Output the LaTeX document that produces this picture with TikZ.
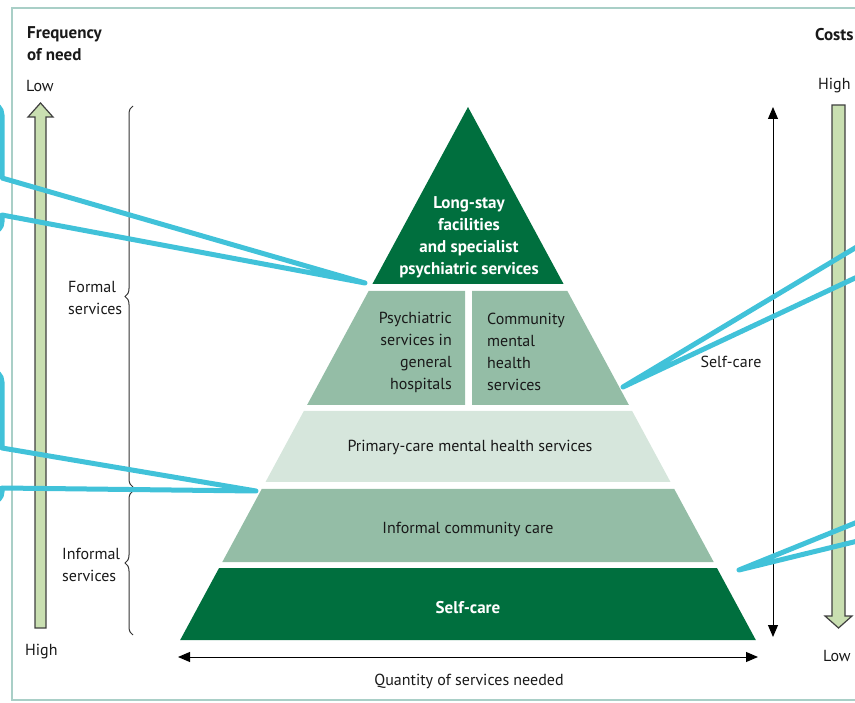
\documentclass[tikz,border=0pt]{standalone}
\usepackage{fontspec}
\setmainfont{PT Sans}
\usetikzlibrary{positioning, arrows.meta, decorations.pathreplacing, calc}
\definecolor{darkgreen}{HTML}{006F3E}
\definecolor{midgreen}{HTML}{94BDA6}
\definecolor{palegreen}{HTML}{D6E6DC}
\definecolor{arrowgreen}{HTML}{C9DFB1}
\definecolor{calloutblue}{HTML}{41C2D9}
\definecolor{framecol}{HTML}{A9CFC7}
\newcommand{\PyrBand}[3]{% style, top y, bottom y
  \fill[#1] ({468-0.54*(#2-107)},#2) -- ({468+0.54*(#2-107)},#2)
    -- ({468+0.54*(#3-107)},#3) -- ({468-0.54*(#3-107)},#3) -- cycle;}
\tikzset{
    dark band/.style={fill=darkgreen},
    mid band/.style={fill=midgreen},
    pale band/.style={fill=palegreen},
    band text/.style={align=center, text=black!90},
    white text/.style={align=center, text=white, font=\fontsize{17}{22}\selectfont\bfseries},
    fat arrow/.style={fill=arrowgreen, draw=black!75, line width=1.2pt},
    dbl arrow/.style={draw=black, line width=1pt, {Triangle[length=12pt,width=10pt]}-{Triangle[length=12pt,width=10pt]}},
    brace/.style={draw=black!80, line width=1pt, decorate, decoration={brace, amplitude=8pt}},
    callout/.style={draw=calloutblue, line width=5pt, line join=round},
}
\begin{document}
\begin{tikzpicture}[x=1pt, y=-1pt,
    every node/.style={inner sep=0pt, font=\fontsize{16}{22}\selectfont, text=black!90}]
    \useasboundingbox (0,0) rectangle (855,703);
    \clip (0,0) rectangle (855,703);

    % frame
    \draw[framecol, line width=1.5pt] (870,8) -- (12,8) -- (12,700) -- (870,700);

    % headings
    \node[anchor=north west, align=left, font=\fontsize{17}{22}\selectfont\bfseries] (freq) at (27,26) {Frequency\\of need};
    \node[anchor=west] (freqlow) at (26,86) {Low};
    \node[anchor=west] (freqhigh) at (25,652) {High};
    \node[anchor=west, font=\fontsize{17}{22}\selectfont\bfseries] (costs) at (815,35) {Costs};
    \node[anchor=west] (costhigh) at (818,86) {High};
    \node[anchor=west] (costlow) at (823,656) {Low};

    % green arrows
    \filldraw[fat arrow] (35,628) -- (35,117) -- (28,117) -- (40.5,103) -- (53,117) -- (46,117) -- (46,628) -- cycle;
    \filldraw[fat arrow] (832,105) -- (845,105) -- (845,616) -- (852,616) -- (838.5,628) -- (825,616) -- (832,616) -- cycle;

    % braces
    \coordinate (formaltop) at (133,106);
    \coordinate (formalbot) at (133,487);
    \coordinate (informaltop) at (133,491);
    \coordinate (informalbot) at (133,635);
    \draw[brace] (formalbot) -- (formaltop);
    \draw[brace] (informalbot) -- (informaltop);
    \node[anchor=west, align=left] (formal) at (68,298) {Formal\\services};
    \node[anchor=west, align=left] (informal) at (62,565) {Informal\\services};

    % pyramid
    \fill[dark band] (468,107) -- ({468+0.54*177},284) -- ({468-0.54*177},284) -- cycle;
    \fill[mid band] ({468-0.54*184},291) -- (465,291) -- (465,405) -- ({468-0.54*298},405) -- cycle;
    \fill[mid band] (472,291) -- ({468+0.54*184},291) -- ({468+0.54*298},405) -- (472,405) -- cycle;
    \PyrBand{pale band}{411}{482}
    \PyrBand{mid band}{489}{562}
    \PyrBand{dark band}{568}{640}

    \node[white text] (longstay) at (469,237) {Long-stay\\facilities\\and specialist\\psychiatric services};
    \node[band text, align=right, anchor=east] (psychgen) at (452,352) {Psychiatric\\services in\\general\\hospitals};
    \node[band text, align=left, anchor=west] (community) at (487,352) {Community\\mental\\health\\services};
    \node[band text] (primary) at (470,447) {Primary-care mental health services};
    \node[band text] (informalcare) at (468,529) {Informal community care};
    \node[white text] (selfcare) at (468,608) {Self-care};

    % axes
    \coordinate (costtop) at (773,107);
    \coordinate (costbot) at (773,637);
    \draw[dbl arrow] (costtop) -- (costbot);
    \node (selfcarelabel) at (731,362) {Self-care};
    \coordinate (qleft) at (178,657);
    \coordinate (qright) at (758,657);
    \draw[dbl arrow] (qleft) -- (qright);
    \node (quantity) at (469,681) {Quantity of services needed};

    % callouts
    \coordinate (tipA) at (365,283);
    \coordinate (tipB) at (256,491);
    \coordinate (tipC) at (623,387);
    \coordinate (tipD) at (739,570);
    \draw[callout] (-30,103) [rounded corners=12pt] -- (2,103) -- (2,150) [sharp corners] -- (2,178) -- (tipA) -- (2,215) -- (2,220) [rounded corners=10pt] -- (2,232) -- (-30,232);
    \draw[callout] (-30,370) [rounded corners=12pt] -- (2,370) -- (2,420) [sharp corners] -- (2,448) -- (tipB) -- (2,488) -- (2,490) [rounded corners=10pt] -- (2,502) -- (-30,502);
    \draw[callout] (870,239) -- (tipC) -- (870,271);
    \draw[callout] (870,517) -- (tipD) -- (870,538);
\end{tikzpicture}
\end{document}
